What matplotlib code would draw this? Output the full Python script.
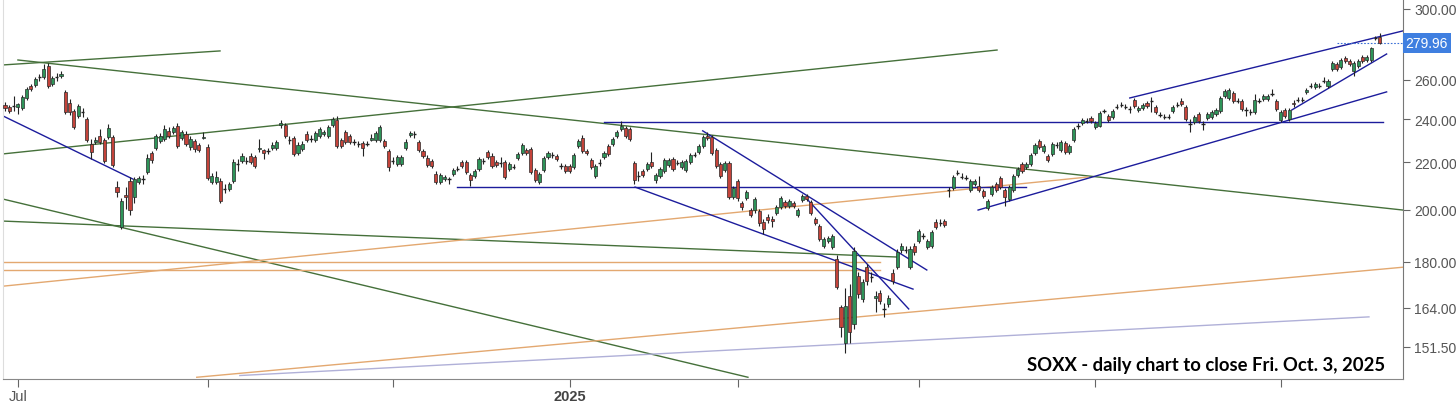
import matplotlib
matplotlib.use("Agg")
import matplotlib.pyplot as plt
import matplotlib.transforms as mtransforms
import pandas as pd

# trading days shown on the chart
holidays = ["2024-07-04", "2024-09-02", "2024-11-28", "2024-12-25", "2025-01-01",
            "2025-01-09", "2025-01-20", "2025-02-17", "2025-04-18", "2025-05-26",
            "2025-06-19", "2025-07-04", "2025-09-01"]
dates = pd.bdate_range("2024-06-26", "2025-10-03")
dates = dates[~dates.isin(pd.to_datetime(holidays))]

opens = [
    247.1, 246.1, 246.4, 246.1, 245.6, 250.6, 256.8, 257.3, 261.2, 261.5,
    267.3, 257.8, 261.2, 262.2, 253.6, 248.1, 244.1, 241.7, 243.6, 240.2,
    228.4, 229.3, 232.1, 230.2, 231.7, 231.7, 209.3, 193.0, 205.9, 211.9,
    205.1, 211.5, 212.5, 215.8, 224.2, 226.5, 229.8, 230.7, 234.4, 234.0,
    236.9, 231.2, 233.0, 227.0, 229.8, 227.9, 231.2, 226.9, 211.5, 211.5,
    211.9, 208.3, 208.5, 211.9, 219.1, 220.6, 220.4, 222.9, 222.4, 226.2,
    225.6, 225.0, 226.5, 226.5, 237.3, 237.3, 230.0, 231.2, 224.2, 226.0,
    233.0, 230.5, 230.2, 232.1, 233.0, 232.1, 237.3, 239.7, 230.2, 234.0,
    232.1, 229.1, 228.2, 228.8, 228.2, 230.4, 230.2, 230.2, 229.8, 225.1,
    220.4, 219.3, 219.3, 226.5, 232.6, 232.6, 229.3, 225.1, 222.0, 220.6,
    214.9, 211.5, 212.7, 212.5, 214.9, 216.9, 220.2, 220.2, 214.5, 214.0,
    217.1, 220.4, 224.6, 222.9, 220.2, 219.5, 220.2, 217.1, 217.9, 221.9,
    224.2, 225.6, 226.0, 216.6, 211.5, 216.6, 222.4, 223.1, 222.9, 218.2,
    218.4, 218.4, 218.0, 227.4, 231.2, 225.1, 221.1, 214.0, 219.7, 222.4,
    227.4, 228.4, 232.1, 235.4, 235.9, 235.4, 219.7, 213.8, 216.2, 217.1,
    220.2, 212.3, 214.0, 216.2, 218.8, 221.5, 219.7, 218.0, 216.6, 220.2,
    223.1, 224.6, 227.4, 232.1, 231.7, 225.6, 219.3, 216.6, 219.7, 205.1,
    211.9, 202.6, 204.7, 199.8, 199.8, 199.4, 195.0, 197.0, 196.2, 198.6,
    201.0, 203.1, 201.4, 202.6, 197.8, 203.9, 205.5, 203.1, 196.2, 193.5,
    185.8, 187.7, 185.4, 181.0, 164.3, 152.7, 167.9, 158.7, 174.8, 166.9,
    178.1, 174.3, 167.2, 168.9, 163.4, 165.2, 175.9, 178.0, 184.3, 184.2,
    178.0, 185.8, 187.7, 189.4, 185.4, 185.8, 195.0, 194.5, 195.4, 207.7,
    208.9, 215.3, 213.4, 213.0, 208.1, 210.6, 209.8, 207.7, 200.6, 206.4,
    210.6, 213.1, 208.1, 204.3, 208.1, 214.5, 219.3, 218.0, 219.3, 224.2,
    229.8, 225.1, 222.9, 223.7, 227.7, 225.6, 228.8, 224.6, 230.2, 236.6,
    238.3, 239.1, 240.7, 236.4, 236.9, 243.9, 241.7, 241.2, 245.9, 246.9,
    245.9, 245.0, 249.6, 244.6, 245.6, 248.1, 248.9, 246.1, 242.0, 241.0,
    241.0, 244.1, 246.9, 249.1, 246.1, 237.6, 238.8, 242.7, 237.6, 240.7,
    241.2, 242.7, 244.1, 251.6, 250.6, 253.1, 248.9, 249.1, 244.4, 243.4,
    243.6, 248.9, 250.1, 250.1, 252.4, 249.1, 239.7, 244.6, 240.2, 248.1,
    249.4, 249.4, 253.6, 256.6, 256.2, 256.6, 259.2, 256.8, 265.7, 268.4,
    266.8, 271.7, 270.1, 264.6, 267.3, 272.3, 270.6, 270.6, 282.6, 283.7,
]
highs = [
    248.6, 247.1, 251.6, 248.1, 252.1, 256.2, 257.8, 261.4, 263.0, 268.4,
    268.9, 262.0, 263.6, 264.6, 254.7, 250.1, 245.1, 247.6, 245.6, 241.2,
    230.7, 231.7, 235.4, 231.2, 237.8, 232.6, 211.9, 204.7, 209.3, 213.6,
    213.6, 214.0, 214.5, 223.8, 225.1, 233.0, 233.5, 237.3, 236.4, 236.9,
    238.3, 235.0, 234.4, 232.1, 230.7, 228.8, 234.0, 228.4, 215.3, 216.2,
    213.1, 210.6, 211.5, 221.5, 221.5, 224.2, 222.4, 224.2, 223.3, 230.7,
    226.0, 226.5, 229.3, 230.2, 239.7, 238.3, 232.1, 232.1, 229.3, 229.8,
    234.4, 232.6, 234.4, 236.4, 235.0, 237.3, 241.2, 241.7, 231.2, 235.0,
    233.0, 230.7, 229.8, 229.8, 229.8, 233.0, 234.4, 237.3, 230.7, 226.0,
    222.4, 223.3, 223.3, 230.7, 234.4, 234.4, 230.2, 226.0, 223.3, 221.5,
    216.2, 215.3, 214.5, 213.6, 217.5, 218.4, 221.1, 221.1, 215.3, 217.1,
    222.4, 222.0, 225.6, 224.2, 221.1, 222.4, 221.1, 220.2, 219.3, 224.6,
    228.8, 226.5, 226.9, 217.5, 215.8, 222.9, 225.1, 224.6, 223.8, 219.7,
    219.3, 219.3, 224.2, 230.7, 232.6, 226.0, 222.0, 219.3, 221.5, 225.1,
    228.4, 231.7, 235.0, 239.2, 236.9, 236.4, 220.6, 216.2, 217.1, 220.2,
    224.6, 215.3, 218.0, 222.0, 222.0, 222.4, 221.1, 221.1, 221.5, 224.2,
    224.6, 228.4, 232.6, 234.0, 232.6, 226.5, 220.2, 220.6, 220.6, 209.8,
    212.7, 203.5, 208.1, 200.6, 205.1, 200.2, 196.2, 198.2, 197.4, 201.8,
    205.5, 203.9, 204.3, 203.5, 200.6, 206.3, 206.3, 203.9, 197.0, 194.3,
    189.2, 189.6, 190.4, 182.5, 165.0, 170.6, 172.0, 185.4, 176.2, 173.8,
    179.2, 176.2, 169.6, 169.9, 165.5, 168.2, 177.3, 184.7, 186.9, 185.8,
    185.8, 186.9, 192.3, 190.8, 188.4, 191.9, 196.2, 196.2, 196.2, 209.3,
    214.5, 216.6, 215.3, 214.5, 212.7, 212.7, 214.0, 208.5, 204.3, 210.2,
    211.5, 214.0, 208.9, 210.2, 214.9, 218.0, 220.2, 220.2, 224.2, 228.8,
    230.7, 228.4, 223.8, 229.3, 229.3, 230.2, 229.8, 228.4, 236.4, 238.3,
    240.7, 240.7, 241.7, 239.2, 244.1, 245.1, 242.6, 245.1, 247.6, 248.6,
    247.6, 246.6, 250.6, 246.6, 248.1, 249.1, 251.1, 247.1, 243.6, 242.6,
    242.6, 247.1, 248.6, 250.6, 247.1, 240.2, 242.2, 243.6, 239.2, 243.6,
    244.6, 245.6, 251.6, 255.2, 255.7, 254.2, 250.6, 250.1, 246.1, 245.1,
    252.6, 250.6, 252.6, 252.6, 255.2, 250.1, 244.6, 245.6, 245.6, 249.6,
    251.1, 251.1, 255.7, 258.3, 258.8, 258.3, 261.4, 260.4, 270.1, 269.5,
    271.7, 272.8, 271.2, 270.1, 271.2, 273.4, 273.4, 277.8, 284.0, 285.8,
]
lows = [
    244.1, 243.1, 244.1, 242.6, 244.6, 249.6, 254.2, 256.3, 259.4, 260.4,
    255.7, 256.8, 259.4, 261.0, 242.6, 242.1, 235.4, 240.7, 241.2, 229.3,
    221.5, 228.4, 228.4, 219.7, 230.7, 217.9, 205.1, 192.3, 200.2, 197.8,
    202.6, 210.6, 210.6, 214.9, 219.7, 225.6, 228.8, 229.8, 231.2, 233.0,
    226.5, 230.2, 227.4, 225.6, 224.6, 224.6, 230.7, 212.3, 210.6, 210.6,
    202.6, 206.6, 207.7, 211.0, 216.2, 219.7, 219.3, 219.3, 217.5, 224.6,
    221.5, 223.8, 225.6, 225.6, 235.9, 231.2, 228.4, 222.9, 223.3, 225.1,
    229.3, 229.3, 229.3, 231.2, 232.1, 231.2, 236.4, 226.5, 226.5, 228.4,
    228.4, 227.9, 227.0, 222.9, 227.4, 229.8, 229.3, 229.3, 226.5, 216.2,
    219.3, 218.4, 218.4, 225.6, 231.7, 231.2, 224.6, 222.0, 217.9, 217.5,
    210.6, 210.6, 211.9, 210.6, 214.0, 216.2, 217.5, 214.9, 209.8, 213.1,
    216.2, 219.3, 221.5, 217.5, 217.9, 218.0, 212.7, 216.2, 217.1, 221.1,
    223.3, 223.3, 214.9, 211.5, 210.6, 215.8, 221.5, 222.0, 220.6, 217.1,
    215.3, 215.3, 217.1, 226.5, 224.2, 223.3, 217.1, 213.1, 218.4, 221.5,
    222.9, 227.4, 231.2, 234.4, 231.2, 229.8, 210.6, 211.9, 213.6, 216.2,
    217.5, 211.0, 213.1, 215.3, 217.9, 216.2, 218.8, 217.1, 215.8, 219.3,
    222.4, 223.8, 226.5, 230.2, 223.3, 217.5, 213.1, 215.8, 204.3, 204.3,
    203.5, 199.8, 203.9, 197.0, 198.6, 193.5, 190.4, 194.7, 193.1, 197.8,
    200.2, 200.6, 200.6, 200.6, 197.0, 203.1, 203.5, 197.8, 193.9, 187.7,
    185.1, 186.9, 184.7, 170.3, 154.5, 149.6, 152.7, 157.1, 167.2, 165.9,
    171.7, 172.8, 162.6, 165.2, 161.0, 164.3, 172.1, 177.3, 183.2, 183.2,
    177.3, 182.5, 186.9, 188.4, 184.7, 185.1, 192.3, 193.5, 193.1, 205.1,
    208.1, 214.5, 212.7, 212.3, 207.3, 209.8, 207.3, 204.7, 199.8, 205.5,
    207.3, 208.5, 201.4, 203.5, 207.3, 213.6, 215.3, 217.1, 218.4, 223.3,
    226.0, 224.2, 220.2, 222.9, 226.5, 224.6, 223.7, 223.7, 229.3, 235.4,
    237.3, 238.3, 238.3, 235.4, 236.4, 243.1, 238.8, 240.2, 245.1, 246.1,
    245.1, 243.1, 245.6, 243.6, 244.6, 245.6, 243.6, 242.6, 241.2, 240.2,
    240.2, 243.1, 246.1, 246.6, 239.2, 234.0, 237.8, 238.3, 234.9, 239.7,
    240.2, 241.7, 243.1, 250.6, 249.6, 248.1, 248.1, 244.1, 241.7, 242.2,
    242.6, 248.1, 249.1, 249.1, 251.6, 244.1, 238.8, 240.7, 239.2, 246.1,
    248.6, 248.6, 252.6, 255.7, 255.2, 255.7, 258.3, 255.7, 264.6, 264.6,
    265.7, 269.0, 267.3, 262.2, 266.2, 269.0, 269.5, 269.5, 281.7, 279.4,
]
closes = [
    245.6, 244.1, 246.8, 247.6, 251.1, 255.2, 255.2, 260.4, 261.5, 265.7,
    256.8, 260.9, 261.6, 262.8, 243.6, 243.6, 236.4, 246.6, 243.8, 230.2,
    224.6, 230.2, 229.3, 220.6, 235.9, 218.8, 207.3, 203.5, 205.1, 199.8,
    212.7, 213.1, 212.9, 222.0, 221.1, 232.1, 232.1, 235.4, 232.1, 235.9,
    227.4, 234.0, 228.4, 230.7, 226.0, 225.6, 231.7, 213.1, 214.0, 213.6,
    203.5, 208.7, 210.6, 220.2, 219.5, 222.9, 220.8, 220.2, 218.4, 226.7,
    224.2, 225.4, 227.9, 229.3, 238.0, 232.1, 230.4, 223.7, 227.9, 228.4,
    230.2, 230.9, 233.5, 235.4, 234.0, 236.4, 240.2, 227.4, 227.4, 229.3,
    229.3, 229.5, 228.6, 226.5, 228.6, 230.9, 233.5, 236.4, 227.4, 218.0,
    220.8, 222.4, 222.4, 229.3, 233.5, 233.0, 225.6, 222.9, 218.8, 218.4,
    211.5, 214.5, 213.6, 212.9, 216.6, 217.3, 218.4, 215.8, 212.3, 216.2,
    221.5, 220.8, 222.4, 218.4, 218.8, 219.9, 213.6, 219.3, 218.3, 223.7,
    227.9, 224.2, 215.8, 212.3, 214.9, 222.0, 224.2, 223.5, 221.5, 218.6,
    216.2, 216.2, 223.3, 229.8, 225.1, 224.2, 218.0, 218.4, 220.1, 224.2,
    223.7, 230.7, 234.0, 236.9, 232.1, 230.7, 212.3, 214.2, 214.5, 219.3,
    218.4, 214.5, 217.1, 221.1, 221.1, 217.1, 220.1, 220.2, 220.6, 223.3,
    223.5, 227.4, 231.7, 231.2, 224.2, 218.4, 214.0, 219.7, 205.1, 208.9,
    204.7, 201.0, 207.3, 197.8, 204.3, 194.7, 192.3, 195.8, 195.4, 201.0,
    204.7, 201.4, 203.5, 201.4, 199.8, 205.5, 204.3, 198.6, 194.7, 188.4,
    188.4, 188.8, 189.6, 171.0, 157.7, 164.6, 156.1, 183.9, 168.6, 172.8,
    173.1, 174.7, 167.9, 166.2, 163.8, 167.2, 173.1, 183.5, 185.8, 184.6,
    184.7, 183.5, 191.5, 189.8, 187.7, 191.1, 193.1, 194.9, 193.9, 208.1,
    213.6, 215.7, 213.8, 213.4, 211.9, 211.9, 208.1, 205.5, 203.5, 209.3,
    208.1, 209.3, 205.1, 209.3, 214.0, 217.1, 216.2, 219.3, 223.3, 227.9,
    226.9, 227.4, 221.1, 228.4, 228.1, 229.3, 224.6, 227.4, 235.4, 237.0,
    239.7, 239.5, 239.2, 238.3, 243.1, 244.3, 239.7, 244.1, 246.3, 247.3,
    246.3, 245.4, 246.6, 245.6, 247.1, 246.6, 249.3, 243.6, 242.4, 241.4,
    241.4, 246.1, 247.3, 247.6, 240.2, 238.0, 241.2, 239.2, 238.0, 242.7,
    243.6, 244.6, 250.6, 254.2, 254.7, 249.1, 249.3, 245.1, 244.8, 243.8,
    249.6, 249.3, 251.6, 251.6, 252.8, 245.1, 243.6, 241.7, 244.6, 247.4,
    249.8, 249.8, 254.6, 257.0, 257.8, 257.0, 259.6, 259.4, 269.0, 265.7,
    270.6, 270.1, 268.4, 269.0, 270.1, 270.1, 272.3, 277.3, 283.0, 279.96,
]

# drawn trendlines: (start bar, start price, end bar, end price, kind)
trendlines = [
    (-0.5, 267.9, 49.9, 275.6, "green"),
    (3.0, 270.6, 324.4, 199.8, "green"),
    (-0.5, 223.8, 230.2, 276.1, "green"),
    (-0.5, 204.3, 172.4, 142.5, "green"),
    (-0.5, 195.4, 207.0, 181.7, "green"),
    (-0.5, 179.9, 203.0, 179.9, "orange"),
    (-0.5, 177.0, 203.0, 177.0, "orange"),
    (-0.5, 171.3, 251.3, 213.6, "orange"),
    (44.5, 142.5, 324.4, 178.0, "orange"),
    (54.5, 143.0, 316.5, 161.0, "lavender"),
    (-0.5, 241.7, 29.7, 212.7, "blue"),
    (139.0, 238.8, 319.7, 238.8, "blue"),
    (104.9, 209.3, 236.9, 209.3, "blue"),
    (146.2, 209.3, 210.7, 170.3, "blue"),
    (161.9, 234.5, 213.9, 177.0, "blue"),
    (186.1, 204.3, 209.7, 163.6, "blue"),
    (225.8, 199.8, 320.6, 253.7, "blue"),
    (261.0, 250.6, 324.4, 287.0, "blue"),
    (298.6, 244.6, 320.6, 273.9, "blue"),
]
line_colors = {"green": "#45703a", "orange": "#e3a870", "lavender": "#b0b0d8", "blue": "#1c1c9c"}

price_ticks = [151.5, 164, 180, 200, 220, 240, 260, 300]
last_close = closes[-1]
title_text = "SOXX - daily chart to close Fri. Oct. 3, 2025"

axis_font = ["Liberation Sans", "DejaVu Sans"]

fig = plt.figure(figsize=(14.56, 4.02), dpi=100)
ax = fig.add_axes([3 / 1456, 22 / 402, 1400 / 1456, 380 / 402])
ax.set_yscale("log")

x = list(range(len(closes)))
up_col = "#2e9459"
dn_col = "#c4433a"
for i in x:
    o, c = opens[i], closes[i]
    h = max(highs[i], o, c)
    l = min(lows[i], o, c)
    col = up_col if c >= o else dn_col
    ax.vlines(i, l, h, color="#222222", linewidth=0.8, zorder=3)
    lo_b, hi_b = min(o, c), max(o, c)
    if hi_b - lo_b < 0.5:
        ax.hlines((o + c) / 2, i - 0.38, i + 0.38, color="#222222", linewidth=1.0, zorder=4)
    else:
        ax.bar(i, hi_b - lo_b, bottom=lo_b, width=0.72, color=col,
               edgecolor="#2a2a2a", linewidth=0.5, zorder=4)

for x0, y0, x1, y1, kind in trendlines:
    ax.plot([x0, x1], [y0, y1], color=line_colors[kind], linewidth=1.0, zorder=2)

ax.hlines(last_close, 309, 324.4, color="#3b6fd6", linewidth=0.8, linestyles=(0, (1.5, 1.5)), zorder=2)

ax.set_xlim(-0.46, 324.4)
ax.set_ylim(142.0, 306.1)

# y axis on the right
ax.yaxis.tick_right()
ax.yaxis.set_minor_locator(matplotlib.ticker.NullLocator())
ax.set_yticks(price_ticks)
ax.set_yticklabels(["%.2f" % v for v in price_ticks])
ax.tick_params(axis="y", colors="#666666", labelcolor="#555555", labelsize=10, length=5, width=0.8, pad=3)
for lab in ax.get_yticklabels():
    lab.set_family(axis_font)
trans = mtransforms.blended_transform_factory(ax.transAxes, ax.transData)
ax.text(1.0018, last_close, "279.96", transform=trans, ha="left", va="center", fontsize=10,
        family=axis_font, color="white",
        bbox=dict(boxstyle="square,pad=0.2", facecolor="#3f7fe0", edgecolor="none"))

# month ticks
month_marks = [(2024, 7), (2024, 9), (2024, 11), (2025, 1), (2025, 3), (2025, 5), (2025, 7), (2025, 9)]
month_labels = ["Jul", "", "", "2025", "", "", "", ""]
tick_pos = []
for yr, mo in month_marks:
    sel = [k for k, d in enumerate(dates) if d.year == yr and d.month == mo]
    tick_pos.append(sel[0])
ax.set_xticks(tick_pos)
ax.set_xticklabels(month_labels)
ax.tick_params(axis="x", colors="#666666", labelcolor="#555555", labelsize=10.5, length=6, width=0.8, pad=1)
for lab in ax.get_xticklabels():
    lab.set_family(axis_font)
    if lab.get_text() == "2025":
        lab.set_fontweight("bold")
        lab.set_color("#444444")

ax.spines["top"].set_visible(False)
ax.spines["left"].set_color("#dddddd")
ax.spines["bottom"].set_color("#888888")
ax.spines["right"].set_color("#777777")

ax.text(0.987, 0.038, title_text, transform=ax.transAxes, ha="right", va="center",
        fontsize=13.3, fontweight="bold", family=["Lato", "DejaVu Sans"], color="black")

fig.savefig("out.png", dpi=100)
